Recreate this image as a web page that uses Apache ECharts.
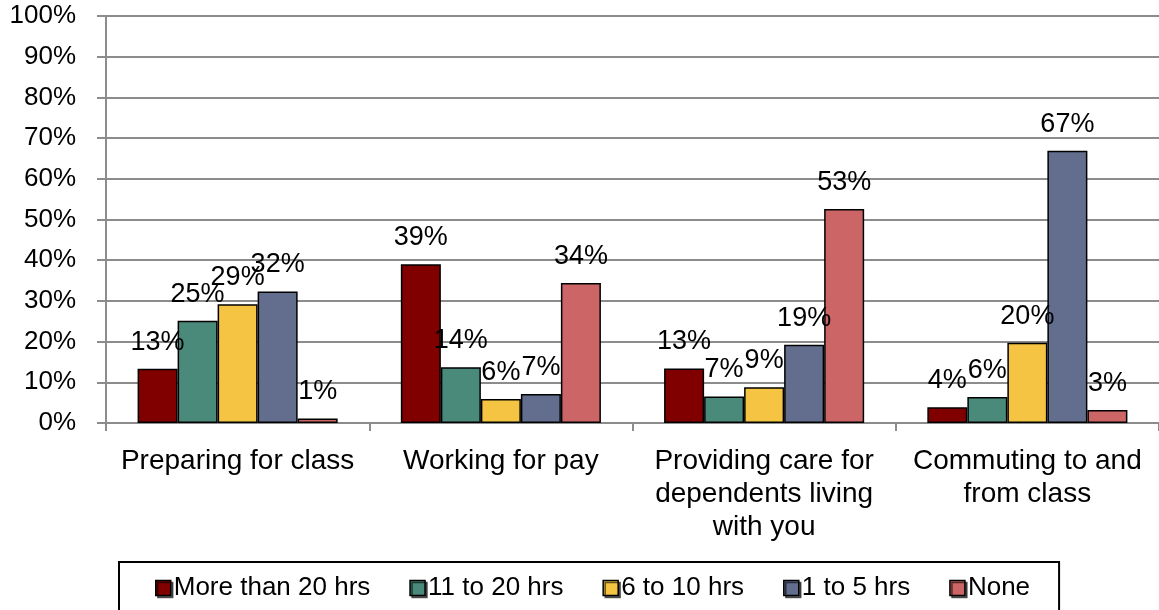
<!DOCTYPE html>
<html>
<head>
<meta charset="utf-8">
<script src="https://cdn.jsdelivr.net/npm/echarts@6/dist/echarts.min.js"></script>
<style>
  html, body { margin: 0; padding: 0; background: #fff; }
  #chart { width: 1159px; height: 610px; }
</style>
</head>
<body>
<div id="chart"></div>
<script>
const categories = [
  "Preparing for class",
  "Working for pay",
  "Providing care for\ndependents living\nwith you",
  "Commuting to and\nfrom class"
];
const seriesNames = ["More than 20 hrs", "11 to 20 hrs", "6 to 10 hrs", "1 to 5 hrs", "None"];
const moreThan20 = [13.3, 39.0, 13.4, 3.9];
const from11to20 = [25.1, 13.7, 6.5, 6.4];
const from6to10 = [29.2, 5.9, 8.8, 19.7];
const from1to5 = [32.3, 7.1, 19.2, 66.9];
const none = [1.1, 34.4, 52.6, 3.2];
const yTicks = { min: 0, max: 100, interval: 10 };

const colors = ["#800000", "#4a8a7b", "#f5c443", "#636e8f", "#cc6666"];
const values = [moreThan20, from11to20, from6to10, from1to5, none];
const fontFamily = "'Liberation Sans', Arial, sans-serif";

const chart = echarts.init(document.getElementById("chart"));

const series = seriesNames.map(function(name, i) {
  return {
    name: name,
    type: "bar",
    data: values[i],
    barGap: "0%",
    barCategoryGap: "24%",
    itemStyle: {
      color: colors[i],
      borderColor: "#000",
      borderWidth: 1.5
    },
    label: {
      show: true,
      position: "top",
      distance: 13,
      color: "#000",
      fontSize: 27,
      fontFamily: fontFamily,
      formatter: function(p) {
        return Math.round(p.value) + "%";
      }
    }
  };
});

const option = {
  animation: false,
  color: colors,
  grid: {
    left: 106,
    top: 16,
    right: -3,
    bottom: 187
  },
  legend: {
    left: 119,
    top: 562,
    padding: [13, 29, 40, 36],
    borderColor: "#000",
    borderWidth: 2,
    itemGap: 39,
    itemWidth: 15,
    itemHeight: 15,
    icon: "rect",
    itemStyle: {
      borderColor: "#000",
      borderWidth: 1.5,
      shadowColor: "rgba(0,0,0,0.6)",
      shadowOffsetX: 2,
      shadowOffsetY: 2
    },
    textStyle: {
      color: "#000",
      fontSize: 26,
      fontFamily: fontFamily,
      padding: [0, 0, 0, -2]
    },
    data: seriesNames
  },
  xAxis: {
    type: "category",
    data: categories,
    axisLine: { lineStyle: { color: "#8c8c8c", width: 2 } },
    axisTick: { show: true, length: 8, lineStyle: { color: "#8c8c8c", width: 2 } },
    axisLabel: {
      interval: 0,
      margin: 22,
      color: "#000",
      fontSize: 28,
      lineHeight: 33,
      fontFamily: fontFamily
    }
  },
  yAxis: {
    type: "value",
    min: yTicks.min,
    max: yTicks.max,
    interval: yTicks.interval,
    axisLine: { show: true, lineStyle: { color: "#8c8c8c", width: 2 } },
    axisTick: { show: true, length: 9, lineStyle: { color: "#8c8c8c", width: 2 } },
    splitLine: { lineStyle: { color: "#8c8c8c", width: 2 } },
    axisLabel: {
      margin: 30,
      color: "#000",
      fontSize: 26,
      fontFamily: fontFamily,
      formatter: "{value}%"
    }
  },
  series: series
};

chart.setOption(option);
</script>
</body>
</html>
